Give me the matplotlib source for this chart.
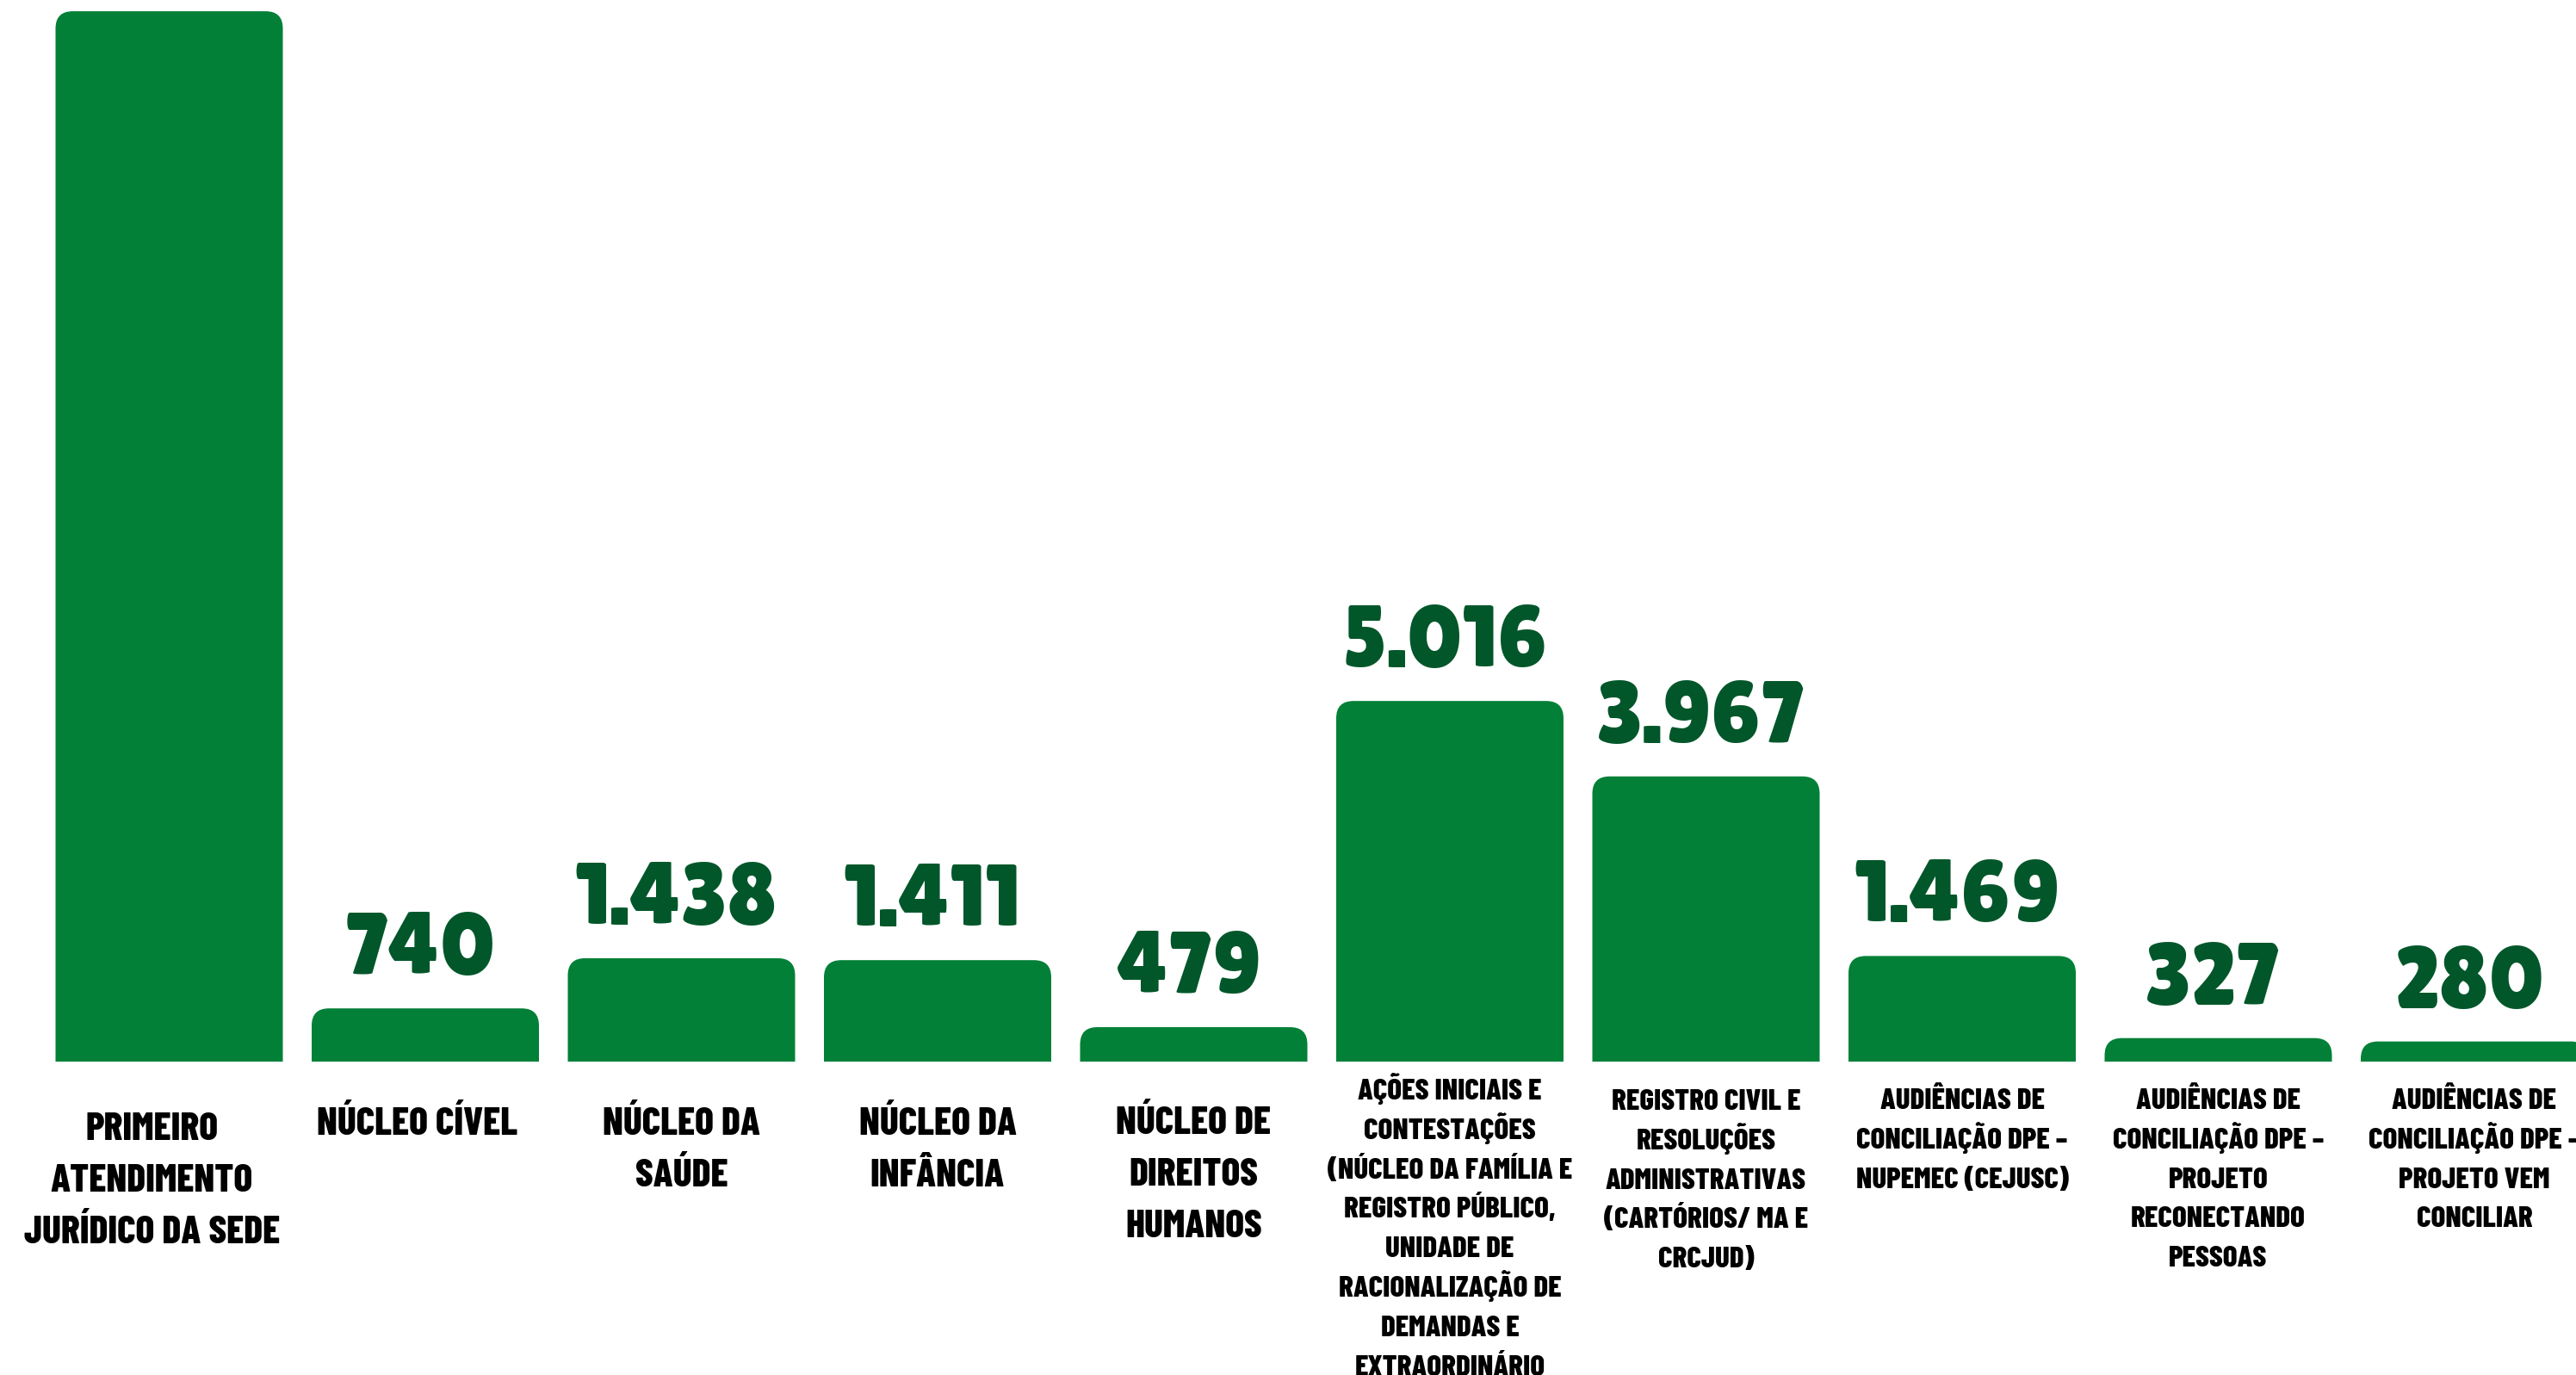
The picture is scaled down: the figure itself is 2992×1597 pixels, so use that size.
import matplotlib
matplotlib.use("Agg")
import matplotlib.pyplot as plt
from matplotlib.patches import FancyBboxPatch
from matplotlib.transforms import blended_transform_factory

# ---------------- dados ---------------- #
categorias = [
    "PRIMEIRO\nATENDIMENTO\nJURÍDICO DA SEDE",
    "NÚCLEO CÍVEL",
    "NÚCLEO DA\nSAÚDE",
    "NÚCLEO DA\nINFÂNCIA",
    "NÚCLEO DE\nDIREITOS\nHUMANOS",
    "AÇÕES INICIAIS E\nCONTESTAÇÕES\n(NÚCLEO DA FAMÍLIA E\nREGISTRO PÚBLICO,\nUNIDADE DE\n"
    "RACIONALIZAÇÃO DE\nDEMANDAS E\nEXTRAORDINÁRIO",
    "REGISTRO CIVIL E\nRESOLUÇÕES\nADMINISTRATIVAS\n(CARTÓRIOS/ MA E\nCRCJUD)",
    "AUDIÊNCIAS DE\nCONCILIAÇÃO DPE –\nNUPEMEC (CEJUSC)",
    "AUDIÊNCIAS DE\nCONCILIAÇÃO DPE –\nPROJETO\nRECONECTANDO\nPESSOAS",
    "AUDIÊNCIAS DE\nCONCILIAÇÃO DPE –\nPROJETO VEM\nCONCILIAR",
]
# o primeiro valor não aparece na imagem (rótulo fora do quadro): estimado pela altura
valores = [14610, 740, 1438, 1411, 479, 5016, 3967, 1469, 327, 280]
mostrar_rotulo = [False, True, True, True, True, True, True, True, True, True]

# ---------------- estilo ---------------- #
VERDE = "#028037"
VERDE_ESCURO = "#02572A"
FONTE_ROTULO = ["Barlow Condensed", "Fira Sans Extra Condensed", "DejaVu Sans"]
FONTE_VALOR = ["Lilita One", "Lato", "DejaVu Sans"]
W_PX, H_PX = 2992, 1597
BASE_PX = 1233          # linha de base das barras (px a partir do topo)
PASSO_PX = 297.5        # distância entre centros
CENTRO0_PX = 196.5      # centro da primeira barra
LARG = 264 / PASSO_PX
RAIO_PX = 20
PX_POR_UNID = 0.0835
PT = 72 / 100           # px -> pt

# layout dos rótulos das categorias
grande = [True, True, True, True, True, False, False, False, False, False]
linha_base_px = [1324, 1318, 1318, 1318, 1317, 1277, 1289, 1288, 1288, 1288]
desloc_x_px = [-20, -9, 0, 0, 0, 0, 0, 0, 0, 0]

fig = plt.figure(figsize=(W_PX / 100, H_PX / 100), dpi=100)
ax = fig.add_axes([0, (H_PX - BASE_PX) / H_PX, 1, BASE_PX / H_PX])
xmin = -CENTRO0_PX / PASSO_PX
xmax = (W_PX - CENTRO0_PX) / PASSO_PX
ymax = BASE_PX / PX_POR_UNID
ax.set_xlim(xmin, xmax)
ax.set_ylim(0, ymax)
ax.axis("off")

# raio do canto em unidades de dados
rx = RAIO_PX / PASSO_PX
ry = RAIO_PX / PX_POR_UNID

for i, v in enumerate(valores):
    barra = FancyBboxPatch((i - LARG / 2, -ry), LARG, v + ry,
                           boxstyle=f"round,pad=0,rounding_size={rx}",
                           mutation_aspect=ry / rx,
                           facecolor=VERDE, edgecolor="none", clip_on=True)
    ax.add_patch(barra)
    if mostrar_rotulo[i]:
        ax.annotate(f"{v:,}".replace(",", "."), (i, v),
                    xytext=(-6 * PT, 40 * PT), textcoords="offset points",
                    ha="center", va="baseline", fontsize=101 * PT,
                    family=FONTE_VALOR, color=VERDE_ESCURO)

# rótulos: uma linha por texto, com espaçamento fixo
trans = blended_transform_factory(ax.transData, fig.transFigure)
for i, cat in enumerate(categorias):
    tam_px = 45.5 if grande[i] else 35
    esp_px = 60 if grande[i] else 45.8
    x = i + desloc_x_px[i] / PASSO_PX
    for j, linha in enumerate(cat.split("\n")):
        y_px = linha_base_px[i] + j * esp_px
        ax.text(x, 1 - y_px / H_PX, linha, transform=trans,
                ha="center", va="baseline", fontsize=tam_px * PT,
                family=FONTE_ROTULO, fontweight=800, color="black",
                clip_on=False)

fig.savefig("out.png", dpi=100, facecolor="white")
